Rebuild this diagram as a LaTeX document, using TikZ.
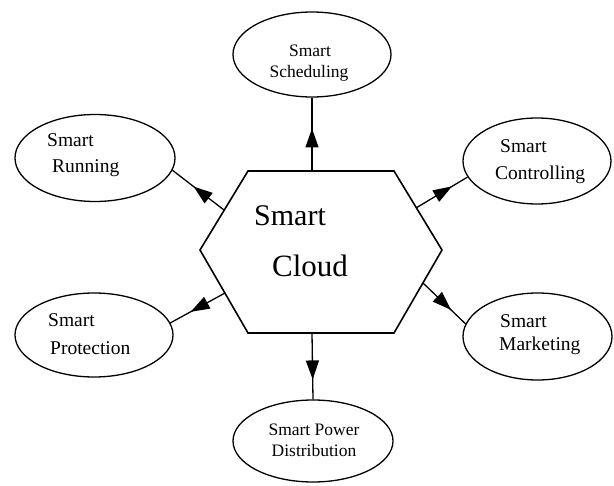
\documentclass[tikz,border=0pt]{standalone}
\usepackage{fontspec}
\setmainfont{Liberation Serif}
\usetikzlibrary{arrows.meta,decorations.markings,shapes.geometric}

\tikzset{
  oval/.style={draw, ellipse, line width=1.3pt, inner sep=0pt},
  lbl/.style={anchor=base west, inner sep=0pt, font=\fontsize{19.5}{22}\selectfont},
  clbl/.style={anchor=base, inner sep=0pt, font=\fontsize{17.5}{20}\selectfont},
  biglbl/.style={anchor=base west, inner sep=0pt, font=\fontsize{30}{34}\selectfont},
  link/.style={line width=1.3pt},
  midarrow/.style={postaction={decorate, decoration={markings,
      mark=at position #1 with {\arrow{Triangle[length=19pt,width=13pt]}}}}}
}

\begin{document}
\begin{tikzpicture}[x=1pt, y=-1pt]
  \useasboundingbox (0,0) rectangle (614,486);

  % central hexagon
  \coordinate (hL)  at (200,250);
  \coordinate (hTL) at (248,171);
  \coordinate (hTR) at (394,171);
  \coordinate (hR)  at (442,250);
  \coordinate (hBR) at (394,333);
  \coordinate (hBL) at (248,333);
  \draw[line width=1.6pt, line join=miter] (hL) -- (hTL) -- (hTR) -- (hR) -- (hBR) -- (hBL) -- cycle;
  \node[biglbl] (cloud1) at (254,226) {Smart};
  \node[biglbl, font=\fontsize{31}{34}\selectfont] (cloud2) at (272,277) {Cloud};

  % connector start points on the hexagon edges
  \coordinate (pT)  at (312,171);
  \coordinate (pUL) at (224,210);
  \coordinate (pUR) at (416,208);
  \coordinate (pLL) at (225,293);
  \coordinate (pLR) at (423,283);
  \coordinate (pB)  at (312,333);

  % surrounding ellipses
  \node[oval, minimum width=158pt, minimum height=85pt] (sched) at (312,54.5) {};
  \node[oval, minimum width=160pt, minimum height=87pt] (run)   at (95,158) {};
  \node[oval, minimum width=148pt, minimum height=86pt] (ctrl)  at (537,161) {};
  \node[oval, minimum width=158pt, minimum height=84pt] (prot)  at (94,335) {};
  \node[oval, minimum width=149pt, minimum height=87pt] (mkt)   at (537.5,336.5) {};
  \node[oval, minimum width=160pt, minimum height=82pt] (dist)  at (313,441) {};

  % labels
  \node[clbl] (t1a) at (310,57) {Smart};
  \node[clbl] (t1b) at (309,78) {Scheduling};
  \node[lbl] (t2a) at (47,147) {Smart};
  \node[lbl] (t2b) at (52,173) {Running};
  \node[lbl] (t3a) at (500,153) {Smart};
  \node[lbl] (t3b) at (495,180) {Controlling};
  \node[lbl] (t4a) at (48,327) {Smart};
  \node[lbl] (t4b) at (50,355) {Protection};
  \node[lbl] (t5a) at (500,328) {Smart};
  \node[lbl] (t5b) at (499,351) {Marketing};
  \node[clbl] (t6a) at (314,436) {Smart Power};
  \node[clbl] (t6b) at (314,457) {Distribution};

  % connectors
  \draw[link, midarrow=0.58] (pT)  -- (sched.south);
  \draw[link, midarrow=0.59] (pUL) -- (run.-9);
  \draw[link, midarrow=0.70] (pUR) -- (ctrl.193);
  \draw[link, midarrow=0.63] (pLL) -- (prot.9);
  \draw[link, midarrow=0.66] (pLR) -- (mkt.170);
  \draw[link, midarrow=0.70] (pB)  -- (dist.north);
\end{tikzpicture}
\end{document}
